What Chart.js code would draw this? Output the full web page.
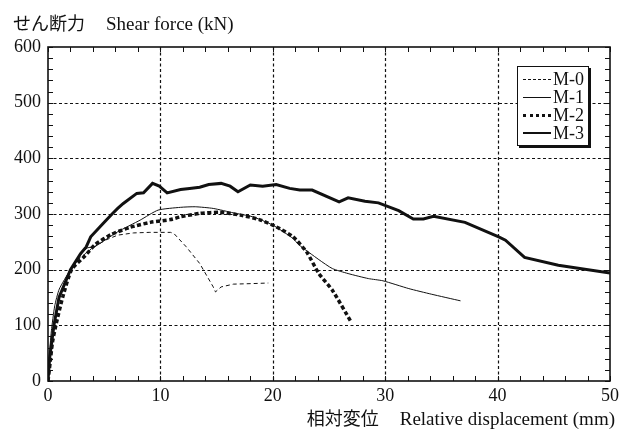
<!DOCTYPE html>
<html>
<head>
<meta charset="utf-8">
<script src="https://cdn.jsdelivr.net/npm/chart.js@4.4.1/dist/chart.umd.min.js"></script>
<style>
  html,body{margin:0;padding:0;background:#fff;}
  #wrap{position:relative;width:629px;height:429px;}
  canvas{position:absolute;left:0;top:0;}
  .t{position:absolute;font-family:"Liberation Serif",serif;font-size:19px;line-height:20px;color:#111;white-space:nowrap;}
  .jp{font-family:"Noto Sans CJK JP",sans-serif;font-size:18px;margin-right:21px;}
  #legend{position:absolute;left:517px;top:66px;width:70px;height:78px;border:1px solid #111;box-shadow:2px 2px 0 #111;background:#fff;}
  .row{position:absolute;left:5px;height:18px;width:64px;}
  .ln{position:absolute;left:0;width:28px;top:9px;}
  .lb{position:absolute;left:30px;top:-1px;font-family:"Liberation Serif",serif;font-size:18px;line-height:20px;color:#111;}
</style>
</head>
<body>
<div id="wrap">
  <canvas id="c" width="629" height="429"></canvas>
  <div class="t" style="left:13px;top:12px;"><span class="jp">せん断力</span>Shear force (kN)</div>
  <div class="t" style="right:14px;top:407px;"><span class="jp">相対変位</span>Relative displacement (mm)</div>
  <div id="legend">
    <div class="row" style="top:3px;"><div class="ln" style="border-top:1px dashed #111;"></div><div class="lb">M-0</div></div>
    <div class="row" style="top:21px;"><div class="ln" style="border-top:1px solid #111;"></div><div class="lb">M-1</div></div>
    <div class="row" style="top:39px;"><div class="ln" style="border-top:3px dotted #111;top:8px;"></div><div class="lb">M-2</div></div>
    <div class="row" style="top:57px;"><div class="ln" style="border-top:2.5px solid #111;top:8px;"></div><div class="lb">M-3</div></div>
  </div>
</div>
<script>
// ---- data ----
const seriesNames = ["M-0", "M-1", "M-2", "M-3"];
const xTicks = [0, 10, 20, 30, 40, 50];
const yTicks = [0, 100, 200, 300, 400, 500, 600];

const m0x = [0, 0.2, 0.5, 0.9, 1.4, 2.6, 3.9, 5.1, 6.2, 7.6, 9.0, 10.9, 11.2, 12.3, 13.5, 14.7, 14.9, 15.4, 16.5, 18.2, 19.6];
const m0y = [0, 50, 100, 140, 175, 217, 238, 253, 262, 266, 267, 267, 265, 241, 211, 169, 160, 169, 174, 175, 176];

const m1x = [0, 0.1, 0.3, 0.6, 1.0, 2.0, 2.6, 3.0, 3.5, 4.2, 6.2, 8.2, 9.8, 11.8, 13.1, 14.7, 16.5, 18.2, 20.0, 21.8, 22.3, 24.1, 25.3, 26.7, 28.5, 29.8, 32.1, 34.1, 36.7];
const m1y = [0, 40, 90, 135, 165, 200, 216, 229, 239, 242, 268, 289, 307, 312, 313, 310, 302, 295, 280, 256, 245, 218, 202, 193, 184, 180, 166, 156, 144];

const m2x = [0, 0.2, 0.4, 0.7, 1.3, 2.1, 3.3, 4.2, 5.6, 7.3, 9.1, 10.9, 11.8, 13.5, 15.3, 17.1, 18.8, 20.3, 21.8, 23.0, 24.1, 25.3, 27.0];
const m2y = [0, 35, 70, 100, 150, 200, 225, 245, 263, 276, 285, 290, 295, 301, 303, 298, 290, 277, 259, 232, 193, 163, 105];

const m3x = [0, 0.15, 0.53, 0.98, 2.0, 2.9, 3.4, 3.8, 4.9, 5.7, 6.2, 6.7, 7.9, 8.5, 9.3, 9.9, 10.6, 11.8, 12.6, 13.5, 14.3, 15.4, 16.2, 16.9, 18.0, 19.1, 20.3, 21.5, 22.4, 23.5, 25.9, 26.7, 28.2, 29.4, 31.2, 32.5, 33.4, 34.3, 37.1, 40.1, 40.7, 42.4, 45.4, 50];
const m3y = [0, 42, 100, 150, 200, 229, 241, 259, 283, 300, 310, 319, 337, 338, 355, 350, 338, 344, 346, 348, 353, 355, 350, 340, 352, 350, 353, 346, 343, 343, 322, 329, 323, 320, 306, 291, 291, 296, 285, 259, 253, 222, 208, 194];

const pts = (xs, ys) => xs.map((v, i) => ({x: v, y: ys[i]}));
const INK = '#111';

const framePlugin = {
  id: 'frame',
  beforeDatasetsDraw(chart) {
    const {ctx, chartArea: a, scales: {x, y}} = chart;
    ctx.save();
    ctx.strokeStyle = INK;
    ctx.lineWidth = 1.2;
    ctx.setLineDash([3, 2.5]);
    xTicks.forEach(v => {
      if (v <= x.min || v >= x.max) return;
      const px = Math.round(x.getPixelForValue(v)) + 0.5;
      ctx.beginPath(); ctx.moveTo(px, a.top); ctx.lineTo(px, a.bottom); ctx.stroke();
    });
    yTicks.forEach(v => {
      if (v <= y.min || v >= y.max) return;
      const py = Math.round(y.getPixelForValue(v)) + 0.5;
      ctx.beginPath(); ctx.moveTo(a.left, py); ctx.lineTo(a.right, py); ctx.stroke();
    });
    ctx.setLineDash([]);
    ctx.lineWidth = 1;
    for (let v = x.min; v <= x.max; v += 2) {
      const px = Math.round(x.getPixelForValue(v)) + 0.5;
      ctx.beginPath();
      ctx.moveTo(px, a.bottom); ctx.lineTo(px, a.bottom - 5);
      ctx.moveTo(px, a.top); ctx.lineTo(px, a.top + 5);
      ctx.stroke();
    }
    for (let v = y.min; v <= y.max; v += 20) {
      const py = Math.round(y.getPixelForValue(v)) + 0.5;
      ctx.beginPath();
      ctx.moveTo(a.left, py); ctx.lineTo(a.left + 5, py);
      ctx.moveTo(a.right, py); ctx.lineTo(a.right - 5, py);
      ctx.stroke();
    }
    ctx.lineWidth = 1.6;
    ctx.strokeRect(a.left, a.top, a.right - a.left, a.bottom - a.top);
    ctx.restore();
  }
};

new Chart(document.getElementById('c'), {
  type: 'scatter',
  data: {
    datasets: [
      {label: seriesNames[0], data: pts(m0x, m0y), showLine: true, borderColor: INK, borderWidth: 1, borderDash: [4, 3], pointRadius: 0, tension: 0},
      {label: seriesNames[1], data: pts(m1x, m1y), showLine: true, borderColor: INK, borderWidth: 1, pointRadius: 0, tension: 0.2},
      {label: seriesNames[2], data: pts(m2x, m2y), showLine: true, borderColor: INK, borderWidth: 3.5, borderDash: [4, 2.5], pointRadius: 0, tension: 0.2},
      {label: seriesNames[3], data: pts(m3x, m3y), showLine: true, borderColor: INK, borderWidth: 3, pointRadius: 0, tension: 0}
    ]
  },
  options: {
    responsive: false,
    animation: false,
    layout: {padding: {left: 0, right: 19, top: 47, bottom: 0}},
    plugins: {legend: {display: false}, tooltip: {enabled: false}},
    scales: {
      x: {
        type: 'linear', min: 0, max: 50,
        afterBuildTicks: s => { s.ticks = xTicks.map(v => ({value: v})); },
        afterFit: s => { s.height = 48; },
        grid: {display: false, drawTicks: false, tickLength: 0}, border: {display: false},
        ticks: {color: INK, padding: 4, maxRotation: 0, font: {family: 'Liberation Serif', size: 18}}
      },
      y: {
        type: 'linear', min: 0, max: 600,
        afterBuildTicks: s => { s.ticks = yTicks.map(v => ({value: v})); },
        afterFit: s => { s.width = 48; },
        grid: {display: false, drawTicks: false, tickLength: 0}, border: {display: false},
        ticks: {color: INK, padding: 7, font: {family: 'Liberation Serif', size: 18}}
      }
    }
  },
  plugins: [framePlugin]
});
</script>
</body>
</html>
